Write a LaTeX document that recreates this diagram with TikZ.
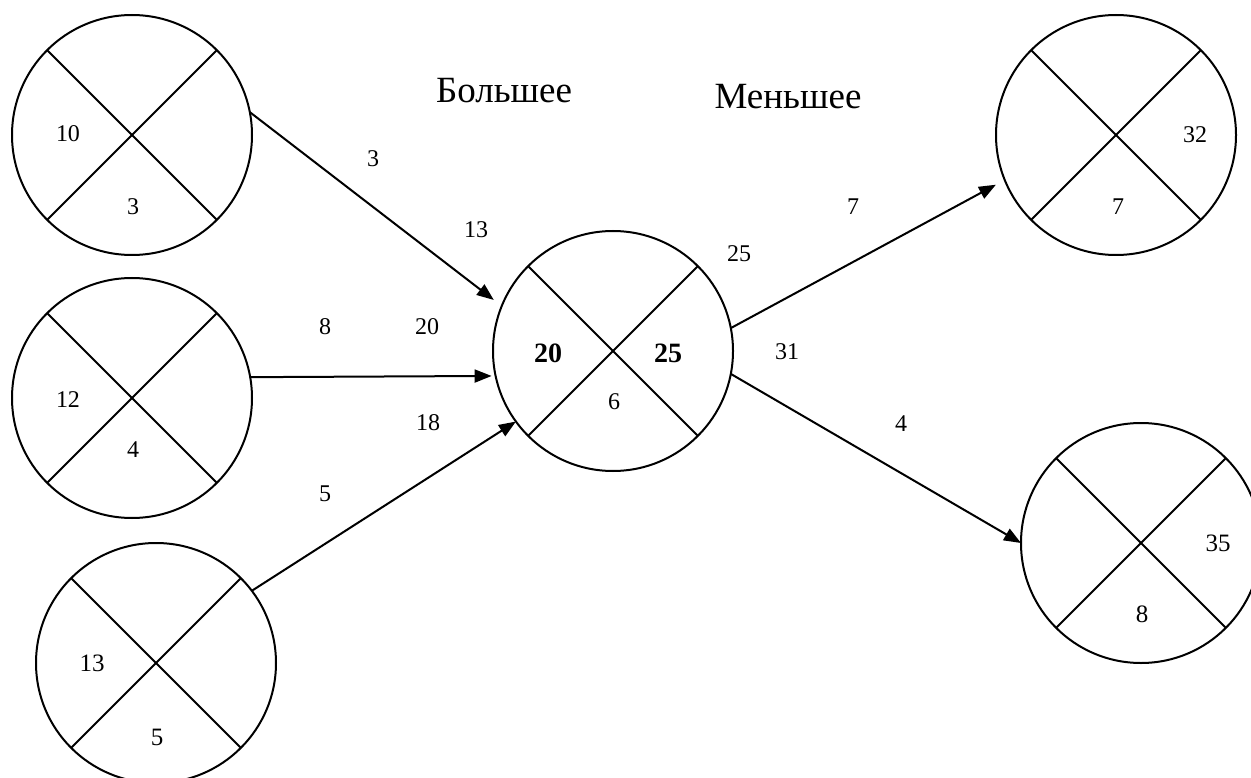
\documentclass[tikz,border=0pt]{standalone}
\usepackage{fontspec}
\setmainfont{Liberation Serif}
\usetikzlibrary{arrows.meta}
\begin{document}
\begin{tikzpicture}[x=1pt,y=-1pt,
  line width=2pt,
  event/.style={circle,draw,minimum size=240pt,inner sep=0pt,outer sep=0pt},
  num/.style={font=\fontsize{24}{28}\selectfont,inner sep=0pt},
  numl/.style={font=\fontsize{25}{29}\selectfont,inner sep=0pt},
  bignum/.style={font=\fontsize{28}{32}\selectfont\bfseries,inner sep=0pt},
  title/.style={font=\fontsize{37}{42}\selectfont,inner sep=0pt},
  arr/.style={-{Triangle[length=17pt,width=13pt]}}]
\useasboundingbox (0,0) rectangle (1251,778);

% event circles, each split into four sectors
\foreach \n/\x/\y in {a/132/135, b/132/398, c/156/663, m/613/351, r/1116/135, s/1141/543}{
  \node[event] (\n) at (\x,\y) {};
  \draw (\n.45) -- (\n.225);
  \draw (\n.135) -- (\n.315);
}

% sector values
\node[num] (a1) at (68,134) {10};
\node[num] (a2) at (133,207) {3};
\node[num] (b1) at (68,400) {12};
\node[num] (b2) at (133,450) {4};
\node[numl] (c1) at (92,663) {13};
\node[numl] (c2) at (157,737) {5};
\node[bignum] (m1) at (548,353) {20};
\node[bignum] (m2) at (668,353) {25};
\node[num] (m3) at (614,402) {6};
\node[num] (r1) at (1195,135) {32};
\node[num] (r2) at (1118,207) {7};
\node[numl] (s1) at (1218,543) {35};
\node[numl] (s2) at (1142,614) {8};

% headings
\node[title] (big) at (504,91) {Большее};
\node[title] (small) at (788,97) {Меньшее};

% activities
\draw[arr,shorten >=10pt] (a.11) -- (m.158);
\draw[arr,shorten >=4pt] (b.10.56) -- (m.192.02);
\draw[arr] (c.37) -- (m.216.7);
\draw[arr,shorten >=10pt] (m.11.3) -- (r.202);
\draw[arr] (m.-11.8) -- (s.180.5);

% activity labels
\node[num] (e1) at (373,159) {3};
\node[num] (e2) at (476,230) {13};
\node[num] (e3) at (325,327) {8};
\node[num] (e4) at (427,327) {20};
\node[num] (e5) at (428,423) {18};
\node[num] (e6) at (325,494) {5};
\node[num] (e7) at (739,254) {25};
\node[num] (e8) at (853,207) {7};
\node[num] (e9) at (787,352) {31};
\node[num] (e10) at (901,424) {4};
\end{tikzpicture}
\end{document}
